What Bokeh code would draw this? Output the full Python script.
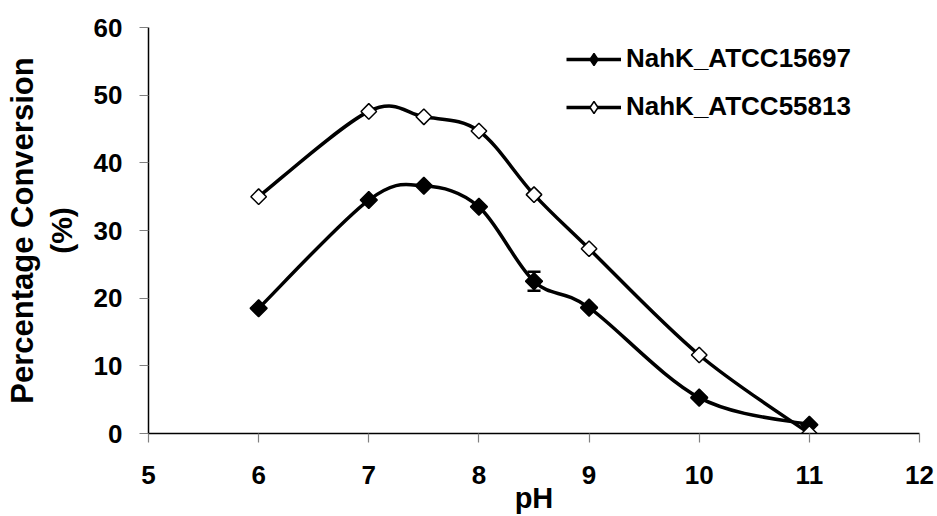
import math
from bokeh.plotting import figure
from bokeh.models import Range1d, Title, Whisker, TeeHead, ColumnDataSource, Legend, LegendItem
from bokeh.embed import file_html
from bokeh.resources import INLINE

# ---- data ----
ph = [6, 7, 7.5, 8, 8.5, 9, 10, 11]
atcc15697 = [18.5, 34.5, 36.6, 33.5, 22.5, 18.6, 5.3, 1.3]
atcc55813 = [35.0, 47.6, 46.8, 44.7, 35.3, 27.3, 11.6, 0.0]
err_ph = [8.5]
err_15697 = [1.4]
x_ticks = [5, 6, 7, 8, 9, 10, 11, 12]
y_ticks = [0, 10, 20, 30, 40, 50, 60]
names = ["NahK_ATCC15697", "NahK_ATCC55813"]

FONT = "Liberation Sans"

p = figure(width=936, height=516, output_backend="svg", toolbar_location=None,
           x_range=Range1d(5, 12), y_range=Range1d(0, 60),
           min_border_left=148, min_border_right=17, min_border_top=27, min_border_bottom=82)
p.outline_line_color = None
p.xgrid.visible = False
p.ygrid.visible = False

for ax, ticks in ((p.xaxis, x_ticks), (p.yaxis, y_ticks)):
    ax.ticker = ticks
    ax.axis_line_color = "black"
    ax.axis_line_width = 1.5
    ax.major_tick_line_color = "#808080"
    ax.major_tick_line_width = 1.2
    ax.major_tick_out = 9
    ax.major_tick_in = 0
    ax.minor_tick_line_color = None
    ax.major_label_text_font = FONT
    ax.major_label_text_font_style = "bold"
    ax.major_label_text_font_size = "26px"
    ax.major_label_text_color = "black"
    ax.axis_label_text_font = FONT
    ax.axis_label_text_font_style = "bold"
    ax.axis_label_text_color = "black"
p.yaxis.major_label_standoff = 17
p.xaxis.major_label_standoff = 23

p.xaxis.axis_label = "pH"
p.xaxis.axis_label_text_font_size = "29px"
p.xaxis.axis_label_standoff = -5

p.yaxis.axis_label = "(%)"
p.yaxis.axis_label_text_font_size = "30px"
p.yaxis.axis_label_standoff = 13

p.add_layout(Title(text="Percentage Conversion", align="center", text_font=FONT,
                   text_font_style="bold", text_font_size="31px", text_color="black",
                   standoff=4, offset=0), "left")


def smooth(xs, ys):
    """Excel-like smoothed line: cubic Bezier control points from neighbours."""
    n = len(xs)
    segs = {k: [] for k in ("x0", "y0", "x1", "y1", "cx0", "cy0", "cx1", "cy1")}
    for i in range(n - 1):
        xa, ya = (xs[i - 1], ys[i - 1]) if i > 0 else (xs[i], ys[i])
        xd, yd = (xs[i + 2], ys[i + 2]) if i + 2 < n else (xs[i + 1], ys[i + 1])
        segs["x0"].append(xs[i]); segs["y0"].append(ys[i])
        segs["x1"].append(xs[i + 1]); segs["y1"].append(ys[i + 1])
        segs["cx0"].append(xs[i] + (xs[i + 1] - xa) / 6)
        segs["cy0"].append(ys[i] + (ys[i + 1] - ya) / 6)
        segs["cx1"].append(xs[i + 1] - (xd - xs[i]) / 6)
        segs["cy1"].append(ys[i + 1] - (yd - ys[i]) / 6)
    return segs


items = []
for ys, fill, size, name in ((atcc15697, "black", 12, names[0]), (atcc55813, "white", 11, names[1])):
    s = smooth(ph, ys)
    b = p.bezier(**s, line_color="black", line_width=3.5)
    p.scatter(ph, ys, marker="square", angle=math.pi / 4, size=size,
              fill_color=fill, line_color="black", line_width=1.5)
    # legend-only diamond (hidden in the plot, drawn in the legend)
    lg = p.scatter(ph, ys, marker="diamond", size=15, fill_color=fill,
                   line_color="black", line_width=1.5, visible=False)
    items.append(LegendItem(label=name, renderers=[b, lg]))

base_vals = [atcc15697[ph.index(v)] for v in err_ph]
src = ColumnDataSource(dict(x=err_ph,
                            upper=[a + e for a, e in zip(base_vals, err_15697)],
                            lower=[a - e for a, e in zip(base_vals, err_15697)]))
w = Whisker(base="x", upper="upper", lower="lower", source=src, line_width=2.5, level="underlay",
            upper_head=TeeHead(size=13, line_width=2.5), lower_head=TeeHead(size=13, line_width=2.5))
p.add_layout(w)

legend = Legend(items=items, location=(418, 311), border_line_color=None, background_fill_alpha=0,
                glyph_width=55, glyph_height=30, label_height=30, spacing=17, padding=5, margin=0,
                label_standoff=5, label_text_font=FONT, label_text_font_style="bold",
                label_text_font_size="26px", label_text_color="black")
p.add_layout(legend)

open("out.html", "w").write(file_html(p, INLINE))
